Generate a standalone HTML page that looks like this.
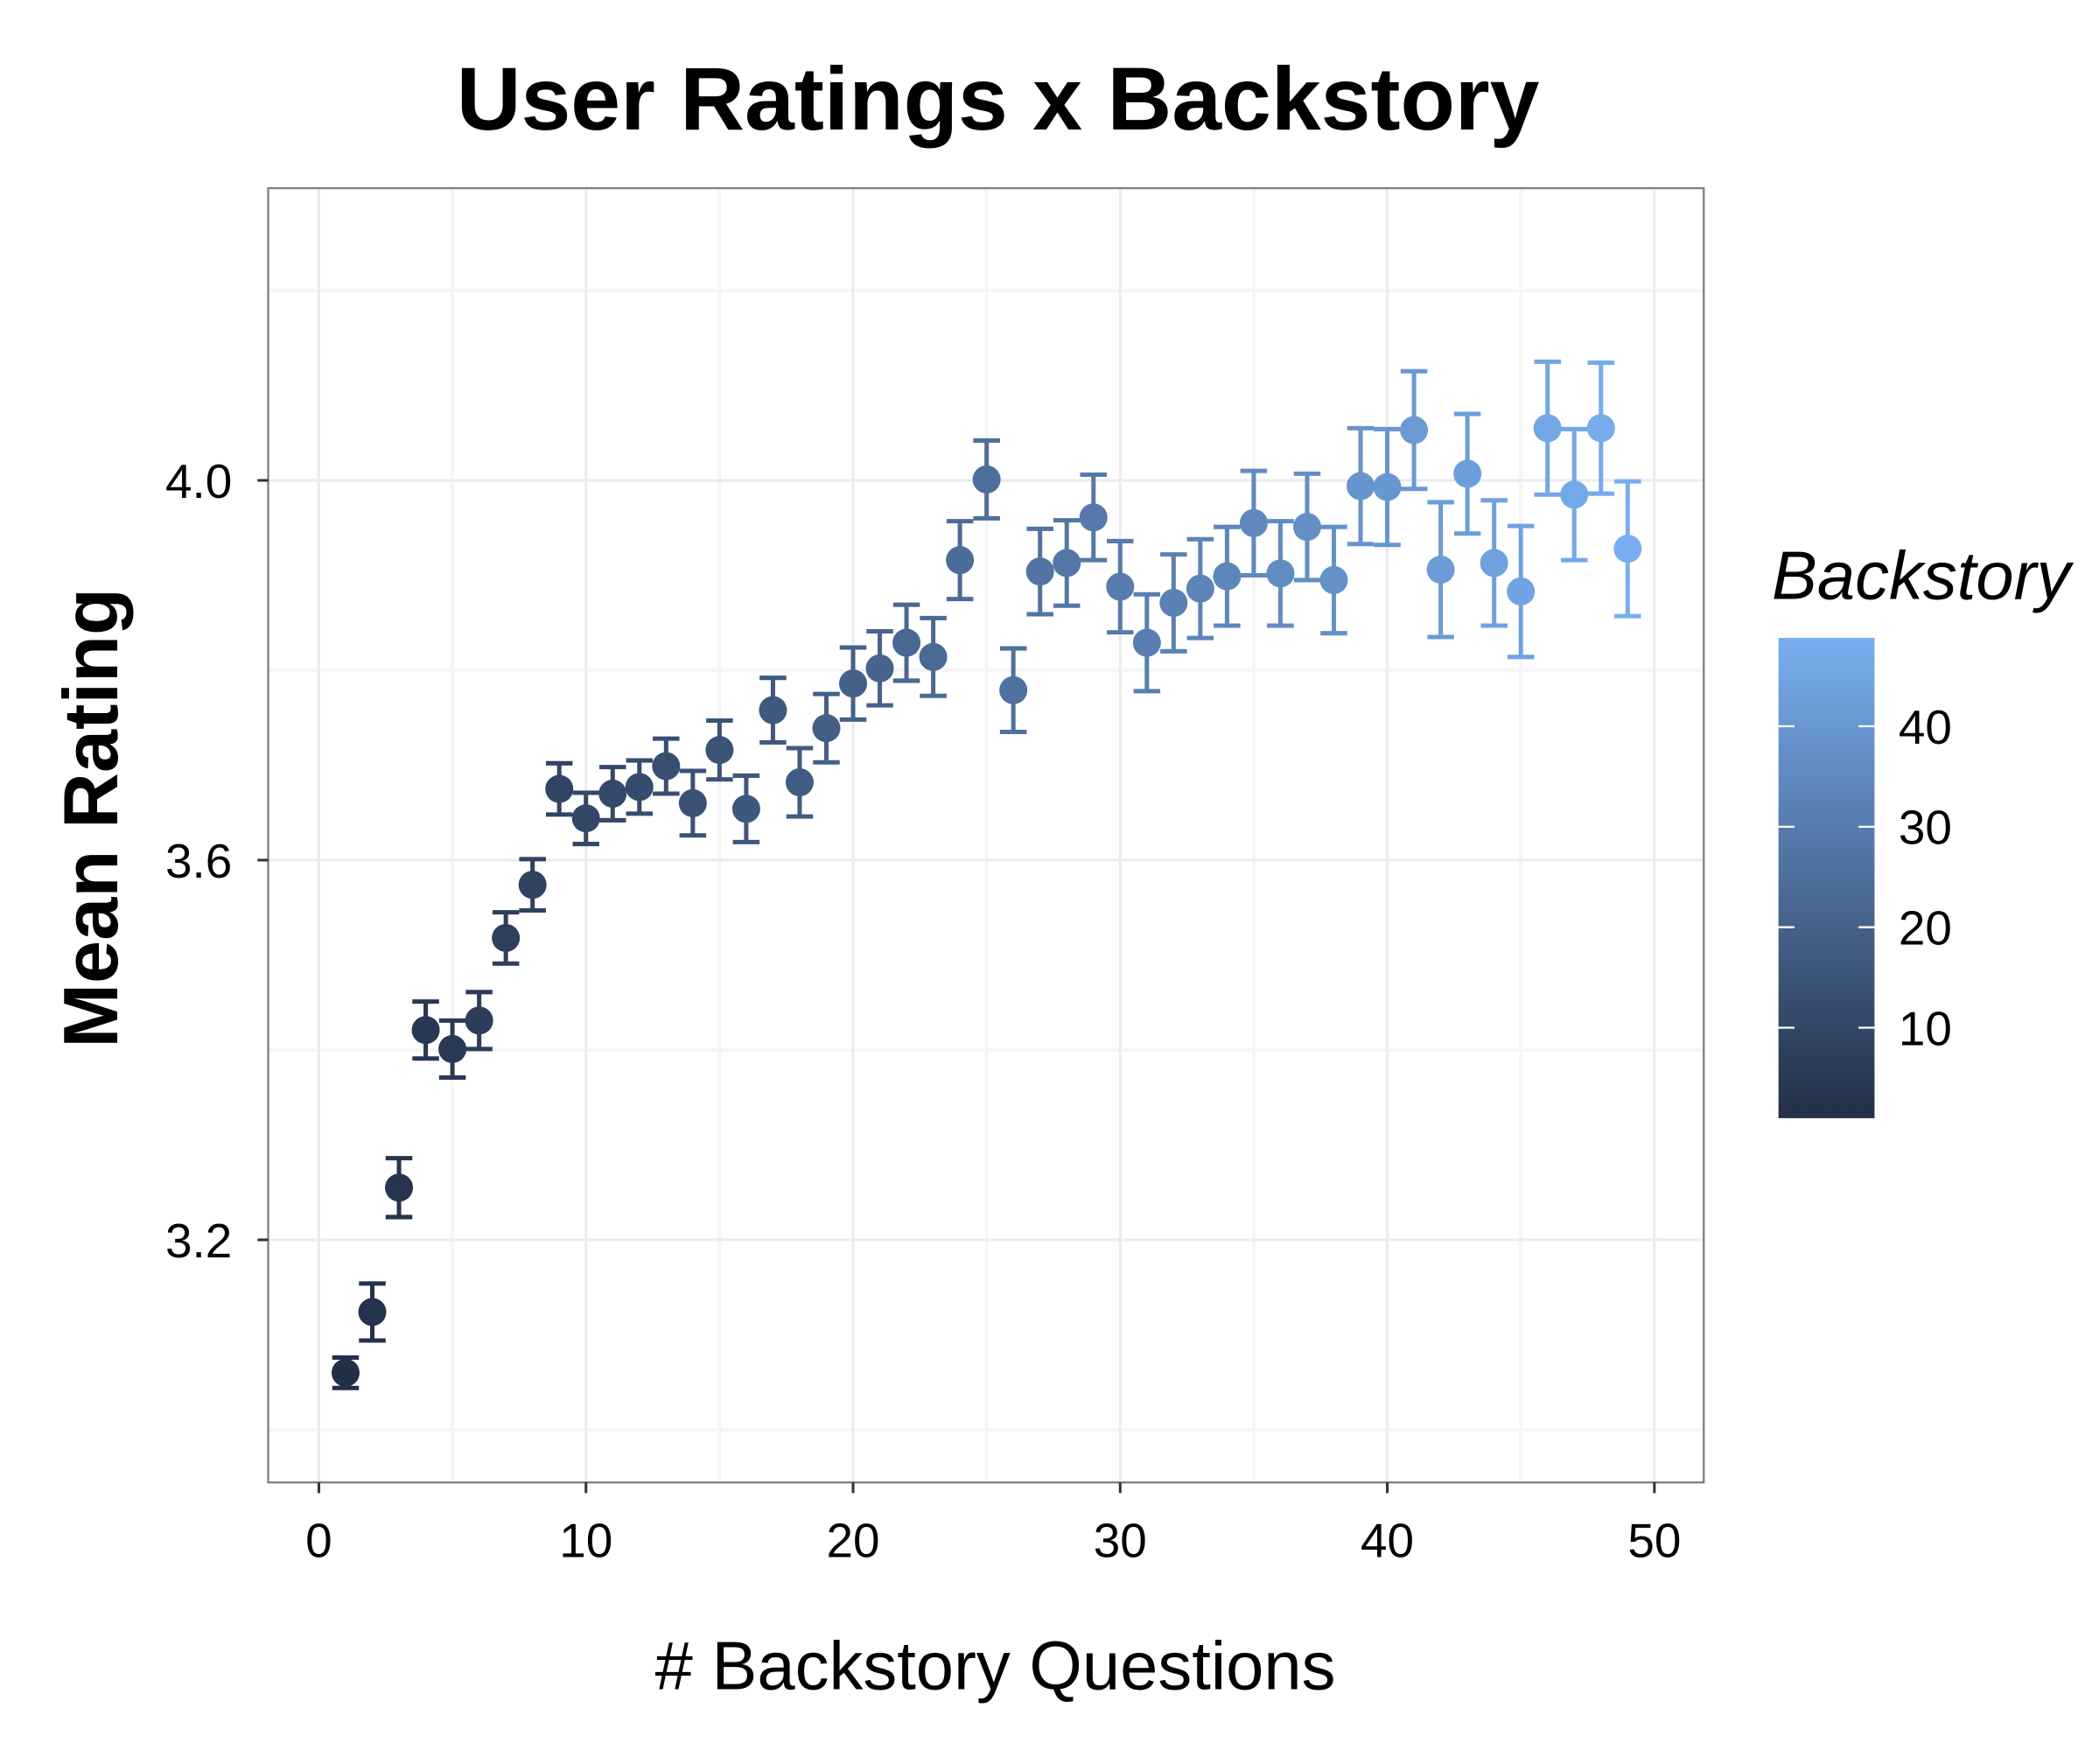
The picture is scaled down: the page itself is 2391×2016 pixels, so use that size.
<!DOCTYPE html>
<html><head><meta charset="utf-8"><style>
html,body{margin:0;padding:0;background:#fff;}
svg{display:block;font-family:"Liberation Sans",Arial,sans-serif;}
</style></head><body>
<svg id="chart" width="2391" height="2016" viewBox="0 0 1568 1322" xmlns="http://www.w3.org/2000/svg">
<defs><linearGradient id="cbar" x1="0" y1="1" x2="0" y2="0">
<stop offset="0" stop-color="#232f47"/><stop offset="1" stop-color="#78aef0"/></linearGradient></defs>
<text x="748" y="97" font-size="67" font-weight="bold" text-anchor="middle">User Ratings x Backstory</text>
<rect x="201" y="141" width="1076" height="970" fill="#fff"/>
<g id="grid"></g>
<g id="marks"></g>
<rect x="201" y="141" width="1076" height="970" fill="none" stroke="#7f7f7f" stroke-width="1.5"/>
<g id="axes"></g>
<text x="746" y="1266" font-size="51" text-anchor="middle"># Backstory Questions</text>
<text transform="translate(88,613) rotate(-90)" font-size="58" font-weight="bold" text-anchor="middle">Mean Rating</text>
<text x="1328" y="449" font-size="51" font-style="italic">Backstory</text>
<rect x="1333" y="478" width="72" height="360" fill="url(#cbar)"/>
<g id="legend"></g>
</svg>
<script>
const xs=[1,2,3,4,5,6,7,8,9,10,11,12,13,14,15,16,17,18,19,20,21,22,23,24,25,26,27,28,29,30,31,32,33,34,35,36,37,38,39,40,41,42,43,44,45,46,47,48,49];
const means=[3.060,3.124,3.255,3.421,3.401,3.431,3.518,3.574,3.675,3.644,3.670,3.677,3.699,3.660,3.716,3.654,3.758,3.682,3.739,3.786,3.802,3.829,3.814,3.916,4.001,3.779,3.904,3.913,3.961,3.888,3.829,3.871,3.886,3.899,3.955,3.902,3.951,3.895,3.994,3.993,4.053,3.906,4.007,3.913,3.883,4.055,3.985,4.055,3.928];
const errs=[0.016,0.030,0.031,0.030,0.030,0.030,0.027,0.027,0.027,0.027,0.028,0.028,0.029,0.034,0.031,0.035,0.034,0.036,0.036,0.038,0.039,0.040,0.041,0.041,0.041,0.044,0.045,0.045,0.045,0.048,0.051,0.051,0.052,0.052,0.055,0.055,0.056,0.056,0.061,0.061,0.062,0.071,0.063,0.066,0.069,0.070,0.069,0.069,0.071];
const xTicks=[0,10,20,30,40,50];
const yTicks=[3.2,3.6,4.0];
const yMinor=[3.0,3.4,3.8,4.2];
const xMinor=[5,15,25,35,45];
const legendTicks=[10,20,30,40];

const X=v=>239+(v-0)*(1240-239)/50;
const Y=v=>360+(4.0-v)*711.5;
const L=v=>838-(v-1)*(360/47.8);
function col(v){const t=Math.max(0,Math.min(1,(v-1)/48));const a=[0x23,0x2f,0x47],b=[0x78,0xae,0xf0];
return 'rgb('+a.map((c,i)=>Math.round(c+(b[i]-c)*t)).join(',')+')';}
const NS='http://www.w3.org/2000/svg';
function mk(p,tag,at){const e=document.createElementNS(NS,tag);for(const k in at)e.setAttribute(k,at[k]);p.appendChild(e);return e;}
const grid=document.getElementById('grid'),marks=document.getElementById('marks'),axes=document.getElementById('axes'),leg=document.getElementById('legend');
yMinor.forEach(v=>{const e=mk(grid,'line',{x1:201,x2:1277,y1:Y(v),y2:Y(v),stroke:'#f5f5f5','stroke-width':2.5});

});
xMinor.forEach(v=>{const e=mk(grid,'line',{x1:X(v),x2:X(v),y1:141,y2:1111,stroke:'#f5f5f5','stroke-width':2.5});

});
yTicks.forEach(v=>{const e=mk(grid,'line',{x1:201,x2:1277,y1:Y(v),y2:Y(v),stroke:'#ebebeb','stroke-width':2});


const t=mk(axes,'line',{x1:193,x2:201,y1:Y(v),y2:Y(v),stroke:'#333','stroke-width':2});


const l=mk(axes,'text',{x:174,y:Y(v)+13,'font-size':36,'text-anchor':'end'});l.textContent=v.toFixed(1);

});
xTicks.forEach(v=>{const e=mk(grid,'line',{x1:X(v),x2:X(v),y1:141,y2:1111,stroke:'#ebebeb','stroke-width':2});


const t=mk(axes,'line',{x1:X(v),x2:X(v),y1:1111,y2:1119,stroke:'#333','stroke-width':2});


const l=mk(axes,'text',{x:X(v),y:1167,'font-size':36,'text-anchor':'middle'});l.textContent=v;

});
xs.forEach((x,i)=>{const c=col(x),cx=X(x),lo=Y(means[i]-errs[i]),hi=Y(means[i]+errs[i]);
const g=mk(marks,'g',{stroke:c,'stroke-width':3.3,fill:'none'});


mk(g,'line',{x1:cx,x2:cx,y1:hi,y2:lo});
mk(g,'line',{x1:cx-10,x2:cx+10,y1:hi,y2:hi});
mk(g,'line',{x1:cx-10,x2:cx+10,y1:lo,y2:lo});
const p=mk(marks,'circle',{cx:cx,cy:Y(means[i]),r:10.5,fill:c});

});
legendTicks.forEach(v=>{const y=L(v);
mk(leg,'line',{x1:1333,x2:1345,y1:y,y2:y,stroke:'#fff','stroke-width':1.5});
mk(leg,'line',{x1:1393,x2:1405,y1:y,y2:y,stroke:'#fff','stroke-width':1.5});
const l=mk(leg,'text',{x:1423,y:y+13,'font-size':36});l.textContent=v;

});
</script>
</body></html>
